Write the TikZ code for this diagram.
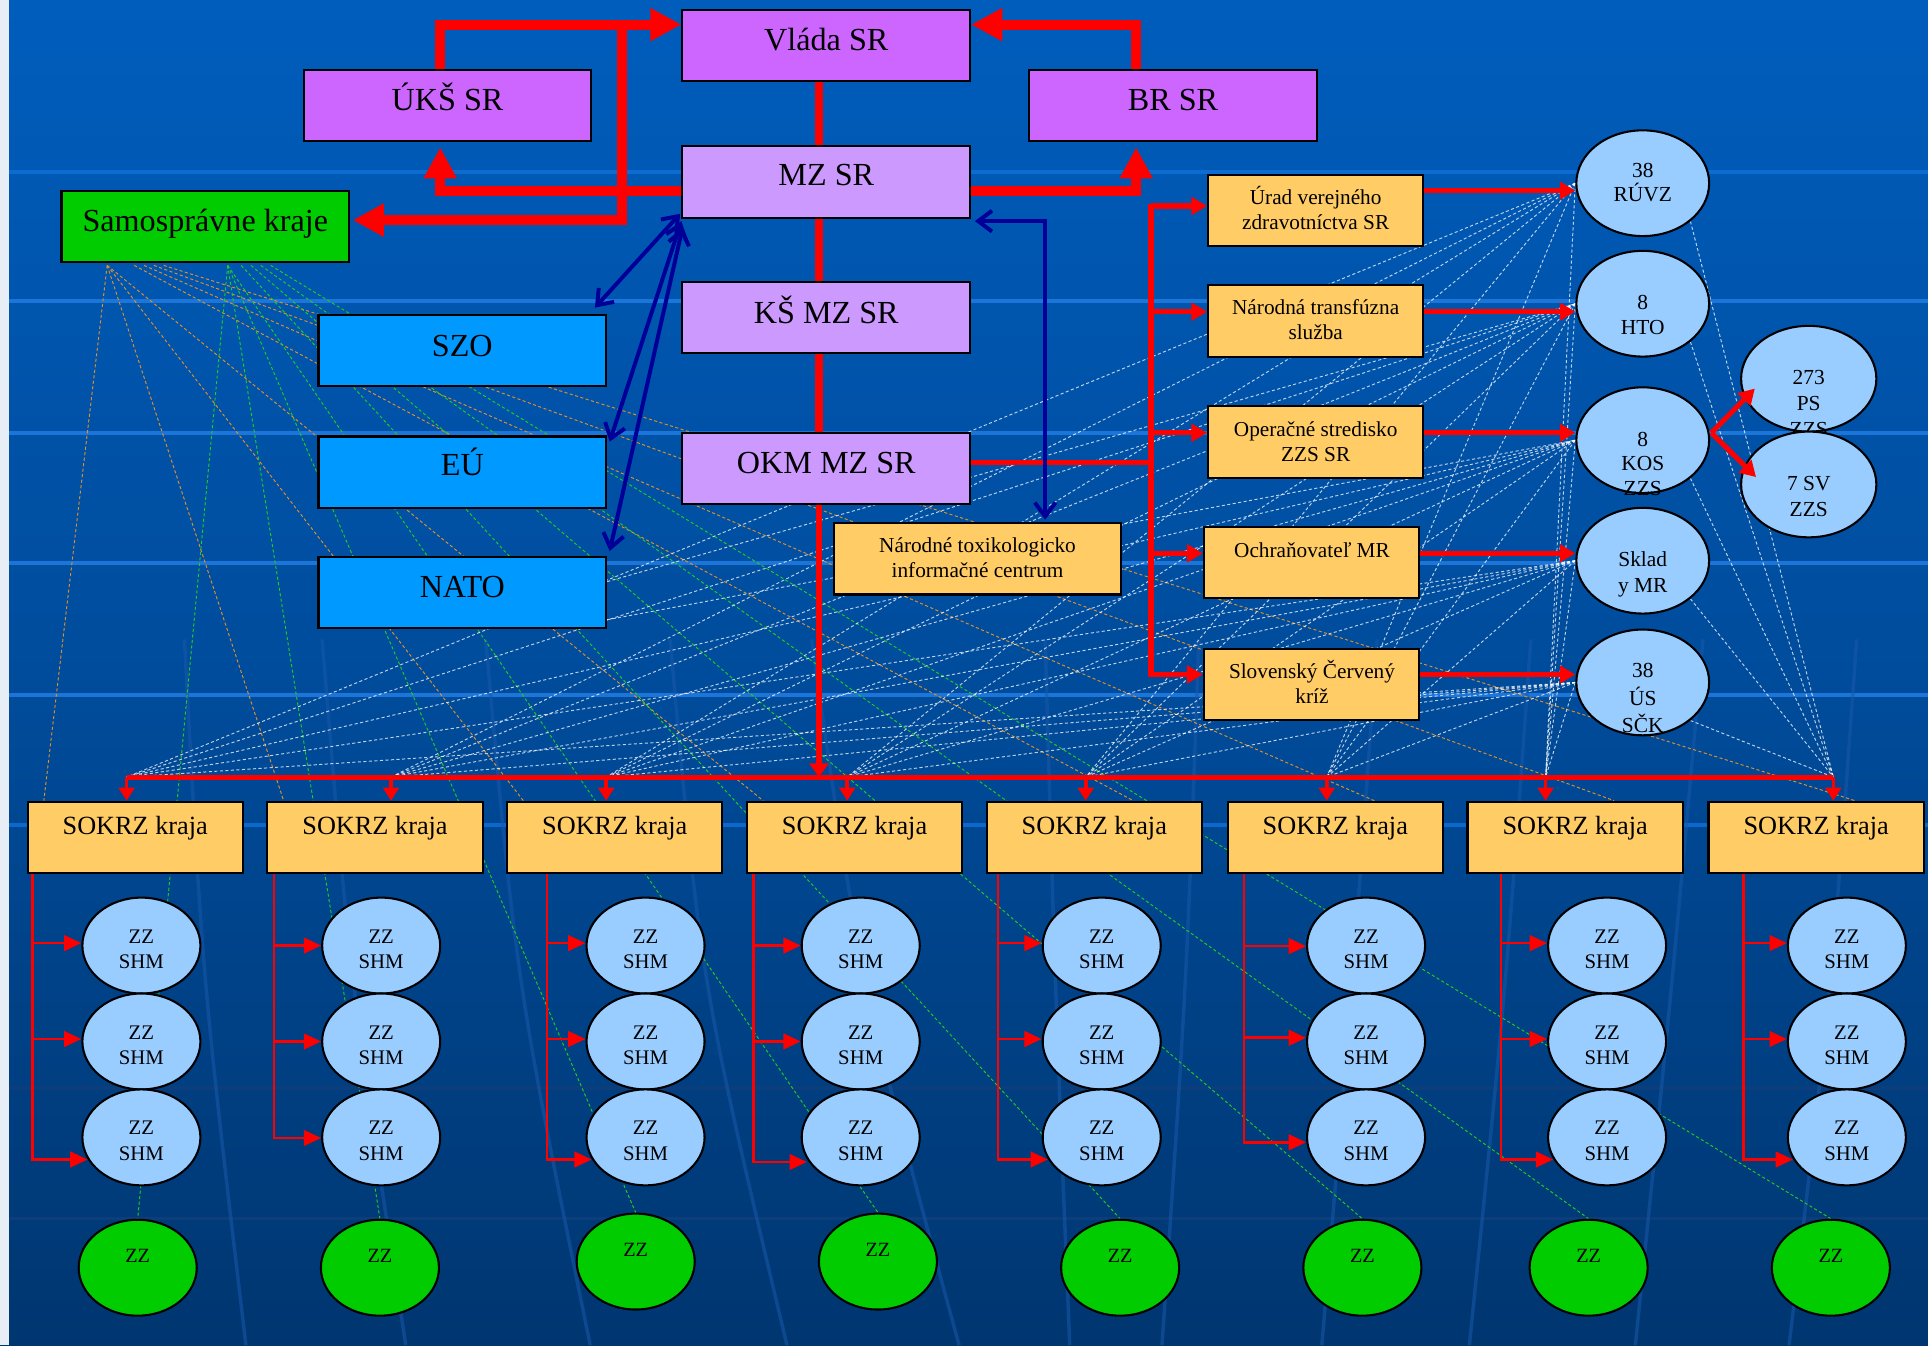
\documentclass[tikz,border=0pt]{standalone}
\usepackage{fontspec}
\setmainfont{Liberation Serif}
\usetikzlibrary{arrows.meta,shapes.geometric,calc}
\definecolor{vpurple}{HTML}{CC66FF}
\definecolor{lpurple}{HTML}{CC99FF}
\definecolor{sgreen}{HTML}{00CC00}
\definecolor{sblue}{HTML}{0099FF}
\definecolor{sorange}{HTML}{FFCC66}
\definecolor{lblue}{HTML}{99CCFF}
\definecolor{navy}{HTML}{000099}
\definecolor{webor}{HTML}{E0902A}
\definecolor{webgr}{HTML}{22CC22}
\definecolor{bgA}{HTML}{00284F}
\definecolor{bgB}{HTML}{003670}
\definecolor{bgC}{HTML}{004C9C}
\definecolor{bgD}{HTML}{005DBC}
\definecolor{bgE}{HTML}{0066CC}
\definecolor{hlbright}{HTML}{1C76DA}
\definecolor{hlfaint}{HTML}{0C6CD2}
\definecolor{hlmid}{HTML}{0A68CE}
\definecolor{hldark}{HTML}{0B3E7A}
\definecolor{meridc}{HTML}{1858AA}
\definecolor{stripc}{HTML}{E8EEF5}
\pgfdeclarelayer{bg}
\pgfdeclarelayer{web}
\pgfsetlayers{bg,web,main}
\pgfdeclareverticalshading{bgshade}{100bp}{color(0bp)=(bgA); color(25bp)=(bgB); color(50bp)=(bgC); color(75bp)=(bgD); color(100bp)=(bgE)}
\tikzset{
 box/.style={rectangle, draw=black, line width=1.2pt, inner sep=0pt, minimum height=14.5mm},
 wide/.style={box, minimum width=58.5mm},
 narrow/.style={box, minimum width=43.75mm},
 ell/.style={ellipse, draw=black, line width=1.2pt, inner sep=0pt, fill=lblue},
 zzsize/.style={minimum width=24mm, minimum height=19.5mm},
 rsize/.style={minimum width=27mm, minimum height=21.5mm},
 psize/.style={minimum width=27.5mm, minimum height=21.5mm},
 txt/.style={anchor=base, inner sep=0pt, text=black},
 bigt/.style={txt, font=\fontsize{18.6}{22}\selectfont},
 sokt/.style={txt, font=\fontsize{15.2}{18}\selectfont},
 ort/.style={txt, font=\fontsize{12.3}{15}\selectfont},
 elt/.style={txt, font=\fontsize{12.4}{15}\selectfont},
 zzt/.style={txt, font=\fontsize{12}{14}\selectfont},
 gzt/.style={txt, font=\fontsize{11.7}{14}\selectfont},
 thk/.style={draw=red, line width=5.7pt, -{Triangle[length=18pt,width=18pt]}},
 spine/.style={draw=red, line width=4.3pt},
 spinelow/.style={draw=red, line width=3.6pt, -{Triangle[length=8pt,width=11pt]}},
 bus/.style={draw=red, line width=2.8pt},
 busarr/.style={draw=red, line width=2.1pt, -{Triangle[length=7.5pt,width=9pt]}},
 rb/.style={draw=red, line width=3.2pt},
 rbarr/.style={draw=red, line width=3pt, -{Triangle[length=9pt,width=10pt]}},
 sarr/.style={draw=red, line width=1.5pt, -{Triangle[length=10pt,width=9pt]}},
 kosarr/.style={draw=red, line width=2.9pt, -{Triangle[length=9pt,width=10pt]}},
 nv/.style={draw=navy, line width=2.3pt, {Straight Barb[length=8pt,width=12pt]}-{Straight Barb[length=8pt,width=12pt]}},
 webline/.style={line width=0.55pt, dash pattern=on 1.8pt off 1.4pt},
 wweb/.style={webline, draw=white, draw opacity=0.75},
 oweb/.style={webline, draw=webor},
 gweb/.style={webline, draw=webgr},
 hl/.style={line width=2.2pt, draw=hlbright},
 merid/.style={line width=2pt, draw=meridc, draw opacity=0.55}
}
\begin{document}
\begin{tikzpicture}[x=0.25mm,y=-0.25mm]
\useasboundingbox (0,0) rectangle (1568,1094);
\begin{pgfonlayer}{bg}
\shade[shading=bgshade] (0,0) rectangle (1568,1094);
\foreach \y in {245,352,458,565} \draw[hl] (7,\y) -- (1568,\y);
\draw[hl, draw=hlfaint] (7,140) -- (1568,140);
\draw[hl, draw=hlmid] (7,671) -- (1568,671);
\foreach \y in {885,991} \draw[hl, draw=hldark] (7,\y) -- (1568,\y);
\foreach \a/\b/\c in {150/165/200, 262/285/330, 395/420/480, 545/570/640, 660/700/780, 850/858/870, 975/965/945, 1120/1100/1075, 1245/1225/1195, 1385/1360/1330, 1510/1490/1455}
  \draw[merid] (\a,520) .. controls (\b,800) .. (\c,1094);
\fill[stripc] (0,0) rectangle (7,1094);
\end{pgfonlayer}

% ---------- boxes ----------
\node[wide, fill=vpurple] (Vlada) at (672,37) {};
\node[wide, fill=vpurple] (UKS) at (364,86) {};
\node[wide, fill=vpurple] (BR) at (954,86) {};
\node[wide, fill=lpurple] (MZ) at (672,148) {};
\node[wide, fill=sgreen] (Samo) at (167,184) {};
\node[wide, fill=lpurple] (KS) at (672,258) {};
\node[wide, fill=sblue] (SZO) at (376,285) {};
\node[wide, fill=sblue] (EU) at (376,384) {};
\node[wide, fill=sblue] (NATO) at (376,482) {};
\node[wide, fill=lpurple] (OKM) at (672,381) {};
\node[wide, fill=sorange] (NTIC) at (795,454.5) {};
\node[narrow, fill=sorange] (Urad) at (1070,171) {};
\node[narrow, fill=sorange] (NTS) at (1070,261) {};
\node[narrow, fill=sorange] (OS) at (1070,359.5) {};
\node[narrow, fill=sorange] (Ochr) at (1066.5,457.5) {};
\node[narrow, fill=sorange] (SCK) at (1066.5,556.5) {};

\node[bigt] (tVl) at (672,41) {Vláda SR};
\node[bigt] (tUK) at (364,90) {ÚKŠ SR};
\node[bigt] (tBR) at (954,90) {BR SR};
\node[bigt] (tMZ) at (672,151) {MZ SR};
\node[bigt] (tSa) at (167,188) {Samosprávne kraje};
\node[bigt] (tKS) at (672,263) {KŠ MZ SR};
\node[bigt] (tSZ) at (376,290) {SZO};
\node[bigt] (tEU) at (376,387) {EÚ};
\node[bigt] (tNA) at (376,486) {NATO};
\node[bigt] (tOK) at (672,385) {OKM MZ SR};

\node[ort] (tU1) at (1070,166) {Úrad verejného};
\node[ort] (tU2) at (1070,186.5) {zdravotníctva SR};
\node[ort] (tN1) at (1070,256) {Národná transfúzna};
\node[ort] (tN2) at (1070,276.5) {služba};
\node[ort] (tO1) at (1070,354.6) {Operačné stredisko};
\node[ort] (tO2) at (1070,375.5) {ZZS SR};
\node[ort] (tC1) at (1067,453) {Ochraňovateľ MR};
\node[ort] (tK1) at (1067,551.6) {Slovenský Červený};
\node[ort] (tK2) at (1067,572) {kríž};
\node[ort] (tT1) at (795,449.5) {Národné toxikologicko};
\node[ort] (tT2) at (795,470) {informačné centrum};

% ---------- right ellipses ----------
\node[ell, rsize] (RUVZ) at (1336,149) {};
\node[elt] (tR1) at (1336,144) {38};
\node[elt] (tR2) at (1336,163.5) {RÚVZ};
\node[ell, rsize] (HTO) at (1336,247) {};
\node[elt] (tH1) at (1336,252) {8};
\node[elt] (tH2) at (1336,272) {HTO};
\node[ell, rsize] (KOS) at (1336,358) {};
\node[elt] (tKo1) at (1336,363.5) {8};
\node[elt] (tKo2) at (1336,383) {KOS};
\node[elt] (tKo3) at (1336,403) {ZZS};
\node[ell, rsize] (SKL) at (1336,456) {};
\node[elt] (tSk1) at (1336,461) {Sklad};
\node[elt] (tSk2) at (1336,481.5) {y MR};
\node[ell, rsize] (US) at (1336,555) {};
\node[elt] (tUs1) at (1336,551) {38};
\node[elt] (tUs2) at (1336,574) {ÚS};
\node[elt] (tUs3) at (1336,596) {SČK};
\node[ell, psize] (PS) at (1471,308) {};
\node[elt] (tP1) at (1471,313) {273};
\node[elt] (tP2) at (1471,334) {PS};
\node[elt] (tP3) at (1471,355) {ZZS};
\node[ell, psize] (SV) at (1471,394) {};
\node[elt] (tV1) at (1471,399) {7 SV};
\node[elt] (tV2) at (1471,420) {ZZS};

% ---------- columns ----------
\foreach \i/\sx/\bx/\cx/\vx/\ya/\yb/\yc/\dd/\gx/\gy in {
 1/22/103/115/26.4/767/845/943/5/112/1031,
 2/217/318/310/223/769/847/925.5/0/309/1031,
 3/412/493/525/445/767/845/943/5/517/1026,
 4/607/689/700/612.6/769/847/945/5/714/1026,
 5/802/883/896/811.7/767/845/943/5/911/1031,
 6/998/1079/1111/1011.6/769.5/844/929/0/1108/1031,
 7/1193/1257/1307/1220.8/767/845/943/5/1292/1031,
 8/1389/1491/1502/1418/767/845/943/5/1489/1031}
{
 \node[narrow, fill=sorange] (S\i) at (\sx+88,681) {};
 \node[sokt] (tS\i) at (\sx+88,679) {SOKRZ kraja};
 \node[ell, zzsize] (za\i) at (\cx,769) {};
 \node[zzt] (tzaA\i) at (\cx,767) {ZZ};
 \node[zzt] (tzaB\i) at (\cx,788) {SHM};
 \node[ell, zzsize] (zb\i) at (\cx,847) {};
 \node[zzt] (tzbA\i) at (\cx,845) {ZZ};
 \node[zzt] (tzbB\i) at (\cx,866) {SHM};
 \node[ell, zzsize] (zc\i) at (\cx,925) {};
 \node[zzt] (tzcA\i) at (\cx,923) {ZZ};
 \node[zzt] (tzcB\i) at (\cx,944) {SHM};
 \node[ell, zzsize, fill=sgreen] (g\i) at (\gx,\gy) {};
 \node[gzt] (tg\i) at (\gx,\gy-4) {ZZ};
 \coordinate (b\i) at (\bx,632);
 \coordinate (va\i) at (\vx,\ya);
 \coordinate (vb\i) at (\vx,\yb);
 \coordinate (vc\i) at (\vx,\yc);
 \draw[busarr] (b\i) -- (b\i |- S\i.north);
 \draw[sarr] (S\i.south -| va\i) -- (vc\i) -- ($(vc\i -| zc\i.west)+(\dd,0)$);
 \draw[sarr] (va\i) -- (va\i -| za\i.west);
 \draw[sarr] (vb\i) -- (vb\i -| zb\i.west);
}

% ---------- web of dashed lines ----------
\begin{pgfonlayer}{web}
\coordinate (oA) at ($(Samo.south west)+(38,3)$);
\foreach \i/\dx/\off in {1/0/14,2/0/14,3/0/14,4/0/14,5/22/120,6/30/120,7/38/120,8/46/120}
  \draw[oweb] ($(oA)+(\dx,-1)$) -- ($(S\i.north west)+(\off,0)$);
\coordinate (gA) at ($(Samo.south west)+(136,3)$);
\foreach \i/\dx in {1/0,2/0,3/0,4/0,5/11,6/19,7/27,8/35}
  \draw[gweb] ($(gA)+(\dx,-1)$) -- (g\i.north);
\foreach \e in {RUVZ,HTO,KOS,SKL,US}{
  \foreach \i in {1,...,7} \draw[wweb] (\e.west) -- (b\i);
  \draw[wweb] (\e.south east) -- (b8);
}
\draw[wweb] ($(NATO.east)+(0,-9)$) -- (HTO.west);
\draw[wweb] ($(NATO.east)+(0,22)$) -- (KOS.west);
\end{pgfonlayer}

% ---------- red thick connectors ----------
\draw[thk] ($(MZ.west)+(0,7)$) -| ($(UKS.south)+(-6,4)$);
\draw[thk] ($(UKS.north)+(-6,0)$) |- ($(Vlada.west)+(0,-17)$);
\coordinate (jL) at (506,16);
\draw[thk] (jL) |- ($(Samo.east)+(2,-5)$);
\draw[thk] ($(MZ.east)+(0,7)$) -| ($(BR.south)+(-30,4)$);
\draw[thk] ($(BR.north)+(-30,0)$) |- ($(Vlada.east)+(0,-17)$);

% spine
\coordinate (spx) at (666,0);
\draw[spine] (Vlada.south -| spx) -- (MZ.north -| spx);
\draw[spine] (MZ.south -| spx) -- (KS.north -| spx);
\draw[spine] (KS.south -| spx) -- (OKM.north -| spx);
\coordinate (b0) at (666,632);
\draw[spinelow] (OKM.south -| spx) -- (b0);
\draw[bus] (b1) -- (b8);

% right bar
\coordinate (rt) at (936,165.5);
\coordinate (rbm) at (936,550.5);
\coordinate (ok1) at ($(OKM.east)+(0,-5)$);
\draw[rb] (ok1) -- (ok1 -| rt);
\draw[rb] (rt) -- (rbm);
\foreach \n/\s in {Urad/-3.5,NTS/-7.5,OS/-7.5,Ochr/-7.5,SCK/-8}{
  \coordinate (q\n) at ($(\n.west)+(0,\s)$);
  \draw[rbarr] (q\n -| rt) -- (q\n);
}
\foreach \n/\s/\e in {Urad/-16/RUVZ,NTS/-7.5/HTO,OS/-7.5/KOS,Ochr/-7.5/SKL,SCK/-8/US}{
  \coordinate (p\n) at ($(\n.east)+(0,\s)$);
  \draw[rbarr] (p\n) -- (p\n -| \e.west);
}
\coordinate (k0) at ($(KOS.east)+(1,-6)$);
\draw[kosarr] (k0) -- ($(PS.west)+(12,8)$);
\draw[kosarr] (k0) -- ($(SV.west)+(13,-6)$);

% navy
\draw[nv] ($(MZ.south west)+(-1,-4)$) -- ($(SZO.north east)+(-10,-5)$);
\draw[nv] ($(MZ.south west)+(0,2)$) -- ($(EU.north east)+(2,5)$);
\draw[nv] ($(MZ.south west)+(1,7)$) -- ($(NATO.north east)+(2,-4)$);
\draw[nv] ($(MZ.south east)+(3,2)$) -| ($(NTIC.north)+(55,-2)$);
\end{tikzpicture}
\end{document}
